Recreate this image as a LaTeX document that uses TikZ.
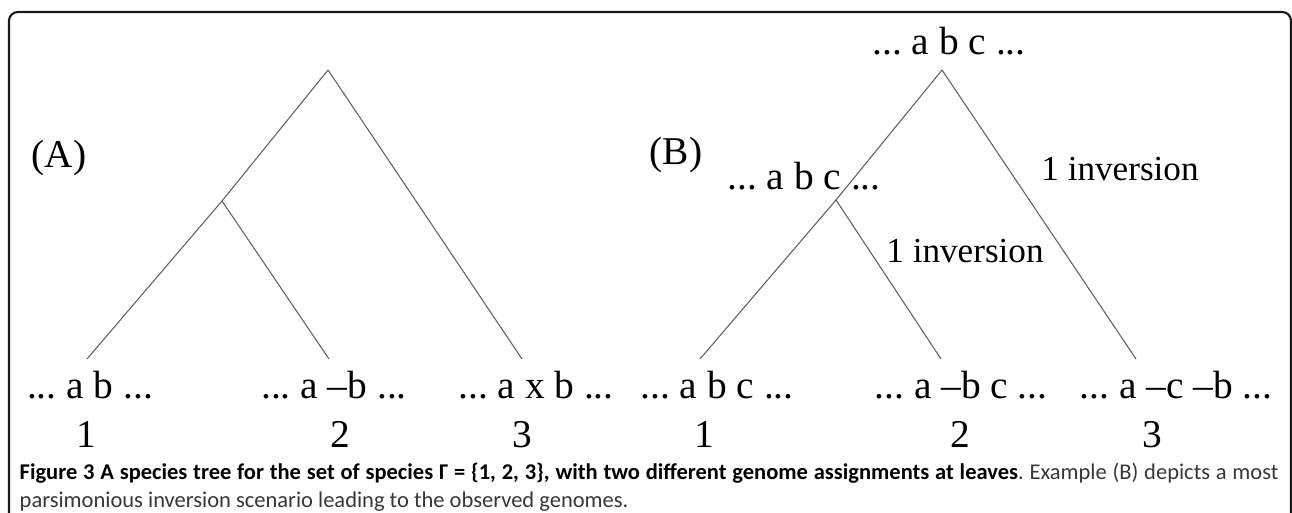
\documentclass[tikz,border=0pt]{standalone}
\usepackage{fontspec}
\setmainfont{Liberation Serif}
\newfontfamily\capfont{Carlito}
\usepackage{tikz-feynman}
\frenchspacing

\definecolor{treegray}{RGB}{95,95,95}
\definecolor{capgray}{RGB}{55,55,55}
\definecolor{framegray}{RGB}{25,25,25}

\tikzset{
	genome/.style={anchor=base, inner sep=0pt, font=\fontsize{11.2}{13}\selectfont},
	steplabel/.style={genome, font=\fontsize{10}{12}\selectfont},
	branch/.style={draw=treegray, line width=0.3pt},
	capline/.style={anchor=base west, inner sep=0pt, font=\capfont\fontsize{6.4}{7.8}\selectfont, text=capgray},
}

\begin{document}
\begin{tikzpicture}[x=0.01cm, y=-0.01cm]
\useasboundingbox (0,0) rectangle (1292,513);
\draw[framegray, line width=0.6pt, rounded corners=2.5pt] (9,513) -- (9,12) -- (1291,12) -- (1291,513);
	\begin{feynman}
		% tree (A)
		\vertex (rA) at (328,70);
		\vertex (iA) at (222,201);
		\vertex (lA1) at (87,359);
		\vertex (lA2) at (329,359);
		\vertex (lA3) at (522,359);
		% tree (B)
		\vertex (rB) at (942,70);
		\vertex (iB) at (836,200);
		\vertex (lB1) at (700,359);
		\vertex (lB2) at (941,359);
		\vertex (lB3) at (1136,359);
		\diagram*{
			(rA) -- [branch] (iA) -- [branch] (lA1),
			(iA) -- [branch] (lA2),
			(rA) -- [branch] (lA3),
			(rB) -- [branch] (iB) -- [branch] (lB1),
			(iB) -- [branch] (lB2),
			(rB) -- [branch] (lB3),
		};
	\end{feynman}
\node[genome] (tagA) at (59,168) {(A)};
\node[genome] (tagB) at (676,165) {(B)};
\node[genome] (gA1) at (90,399) {... a b ...};
\node[genome] (gA2) at (334,399) {... a --b ...};
\node[genome] (gA3) at (536,399) {... a x b ...};
\node[genome] (nA1) at (86,447) {1};
\node[genome] (nA2) at (340,447) {2};
\node[genome] (nA3) at (522,447) {3};
\node[genome] (gR) at (949,55) {... a b c ...};
\node[genome] (gI) at (804,190) {... a b c ...};
\node[steplabel] (invR) at (1120,181) {1 inversion};
\node[steplabel] (invI) at (965,263) {1 inversion};
\node[genome] (gB1) at (717,399) {... a b c ...};
\node[genome] (gB2) at (961,399) {... a --b c ...};
\node[genome] (gB3) at (1176,399) {... a --c --b ...};
\node[genome] (nB1) at (704,447) {1};
\node[genome] (nB2) at (960,447) {2};
\node[genome] (nB3) at (1152,447) {3};
% caption
\node[capline] (cap1) at (19,479) {\makebox[12.58cm][s]{\textbf{\color{black}Figure 3 A species tree for the set of species Γ = \{1, 2, 3\}, with two different genome assignments at leaves}. Example (B) depicts a most}};
\node[capline] (cap2) at (19,507) {parsimonious inversion scenario leading to the observed genomes.};
\end{tikzpicture}
\end{document}
